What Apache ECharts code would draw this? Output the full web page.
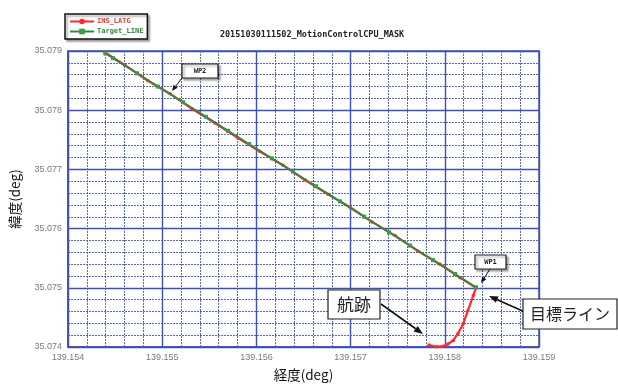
<!DOCTYPE html>
<html><head><meta charset="utf-8">
<script src="https://cdn.jsdelivr.net/npm/echarts@6/dist/echarts.min.js"></script>
<style>html,body{margin:0;padding:0;background:#fff}#c{width:618px;height:387px}</style>
</head><body><div id="c"></div>
<script>
// ---- data ----
const titleText = '20151030111502_MotionControlCPU_MASK';
const seriesNames = ['INS_LATG', 'Target_LINE'];
const xTicks = [139.154, 139.155, 139.156, 139.157, 139.158, 139.159];
const yTicks = [35.074, 35.075, 35.076, 35.077, 35.078, 35.079];
// INS_LATG (track) longitude / latitude
const insLon = [139.154393,139.154605,139.154849,139.155083,139.155316,139.155560,139.155805,139.156038,139.156282,139.156516,139.156760,139.156994,139.157227,139.157471,139.157716,139.157949,139.158162,139.158331,139.158303,139.158246,139.158196,139.158140,139.158090,139.158034,139.157984,139.157914,139.157832];
const insLat = [35.078978,35.078760,35.078497,35.078279,35.078024,35.077783,35.077530,35.077303,35.077071,35.076819,35.076579,35.076360,35.076113,35.075882,35.075619,35.075398,35.075171,35.075000,35.074871,35.074618,35.074393,35.074229,35.074110,35.074051,35.074014,35.074004,35.074034];
// Target_LINE longitude / latitude
const tgtLon = [139.154396,139.154478,139.154733,139.154955,139.155221,139.155465,139.155699,139.155922,139.156166,139.156389,139.156633,139.156888,139.157142,139.157408,139.157631,139.157875,139.158108,139.158331];
const tgtLat = [35.078961,35.078879,35.078623,35.078399,35.078134,35.077888,35.077653,35.077430,35.077185,35.076961,35.076716,35.076460,35.076203,35.075937,35.075713,35.075467,35.075234,35.075009];
const annoWP2 = 'WP2', annoWP1 = 'WP1', annoTrack = '航跡', annoTarget = '目標ライン';
const xName = '経度(deg)', yName = '緯度(deg)';

const zip = (a, b) => a.map((v, i) => [v, b[i]]);
const MAJ = '#3f4fb3', MIN = '#5867c2';
const jp = '"Noto Sans CJK JP", sans-serif';

function box(l, t, r, b, text, fs, shadow) {
  return [
    {type:'rect', shape:{x:l, y:t, width:r-l, height:b-t}, z:100,
     style:{fill:'#fff', stroke:'#222', lineWidth:1.2, shadowColor: shadow ? 'rgba(0,0,0,0.35)' : 'rgba(0,0,0,0)', shadowOffsetX:2, shadowOffsetY:2, shadowBlur:2}},
    {type:'text', x:(l+r)/2, y:(t+b)/2, z:101,
     style:{text:text, fill:'#222', font: fs, align:'center', verticalAlign:'middle'}}
  ];
}
function arrow(x1, y1, x2, y2, w, hl, hw) {
  const a = Math.atan2(y2-y1, x2-x1);
  const bx = x2 - hl*Math.cos(a), by = y2 - hl*Math.sin(a);
  const px = -Math.sin(a)*hw, py = Math.cos(a)*hw;
  return [
    {type:'line', z:100, shape:{x1:x1, y1:y1, x2:bx, y2:by}, style:{stroke:'#111', lineWidth:w}},
    {type:'polygon', z:100, shape:{points:[[x2,y2],[bx+px,by+py],[bx-px,by-py]]}, style:{fill:'#111'}}
  ];
}

const chart = echarts.init(document.getElementById('c'), null, {renderer:'canvas'});
const axisCommon = {
  type:'value', interval:0.001, splitNumber:5,
  axisLine:{show:true, lineStyle:{color:MAJ, width:1.5}},
  axisTick:{show:false},
  splitLine:{show:true, lineStyle:{color:MAJ, width:1.4}},
  minorTick:{show:false, splitNumber:5},
  minorSplitLine:{show:true, lineStyle:{color:MIN, width:1, type:[2,1]}},
  axisLabel:{color:'#7a7a7a', fontSize:9, fontFamily:'"Liberation Sans", Arial', formatter: v => v.toFixed(3)}
};
chart.setOption({
  animation:false,
  backgroundColor:'#fff',
  title:{text:titleText, left:307, top:25, textAlign:'center',
    textStyle:{fontSize:8.5, fontWeight:'bold', color:'#222', fontFamily:'"DejaVu Sans Mono", monospace'}},
  legend:{
    orient:'vertical', left:65, top:14, padding:[4,4,4,4], itemGap:3,
    itemWidth:24, itemHeight:7, borderColor:'#111', borderWidth:1.5,
    backgroundColor:'#fff', shadowColor:'rgba(0,0,0,0.35)', shadowOffsetX:2, shadowOffsetY:2, shadowBlur:2,
    textStyle:{fontSize:7, fontWeight:'bold', fontFamily:'"DejaVu Sans Mono", monospace', padding:[0,0,0,-2]},
    data:[{name:seriesNames[0], textStyle:{color:'#ff3030'}}, {name:seriesNames[1], textStyle:{color:'#2e8b3e'}}]
  },
  grid:{left:68, top:51, right:79, bottom:40, show:true, borderColor:MAJ, borderWidth:1.5},
  xAxis:Object.assign({}, axisCommon, {min:xTicks[0], max:xTicks[xTicks.length-1],
    axisLabel:Object.assign({}, axisCommon.axisLabel, {margin:6}),
    name:xName, nameLocation:'middle', nameGap:21,
    nameTextStyle:{fontSize:13.5, color:'#111', fontFamily:jp}}),
  yAxis:Object.assign({}, axisCommon, {min:yTicks[0], max:yTicks[yTicks.length-1],
    axisLabel:Object.assign({}, axisCommon.axisLabel, {margin:6}),
    name:yName, nameLocation:'middle', nameGap:46, nameRotate:90,
    nameTextStyle:{fontSize:13.5, color:'#111', fontFamily:jp}}),
  series:[
    {name:seriesNames[0], type:'line', data:zip(insLon, insLat), z:3,
     symbol:'circle', symbolSize:3.5, showAllSymbol:true,
     lineStyle:{color:'#ff2a2a', width:2.2}, itemStyle:{color:'#ff2a2a'}},
    {name:seriesNames[1], type:'line', data:zip(tgtLon, tgtLat), z:4,
     symbol:'rect', symbolSize:4, showAllSymbol:true,
     lineStyle:{color:'#2e8b3e', width:1.8}, itemStyle:{color:'#3a9a48'}}
  ],
  graphic:[]
});
const g = [].concat(
  arrow(182, 78, 172, 91, 1, 6, 2.5),
  box(182, 64, 218, 78, annoWP2, 'bold 7px "DejaVu Sans Mono", monospace', true),
  arrow(490, 269, 481, 283, 1, 6, 2.5),
  box(475, 255, 506, 269, annoWP1, 'bold 7px "DejaVu Sans Mono", monospace', true),
  arrow(381, 304, 423, 334, 1.6, 9, 3.5),
  box(328, 290, 380, 319, annoTrack, '17px ' + jp, false),
  arrow(525, 312, 489, 296, 1.6, 9, 3.5),
  box(523, 299, 617, 329, annoTarget, '16px ' + jp, false)
);
chart.setOption({graphic:g});
</script>
</body></html>
